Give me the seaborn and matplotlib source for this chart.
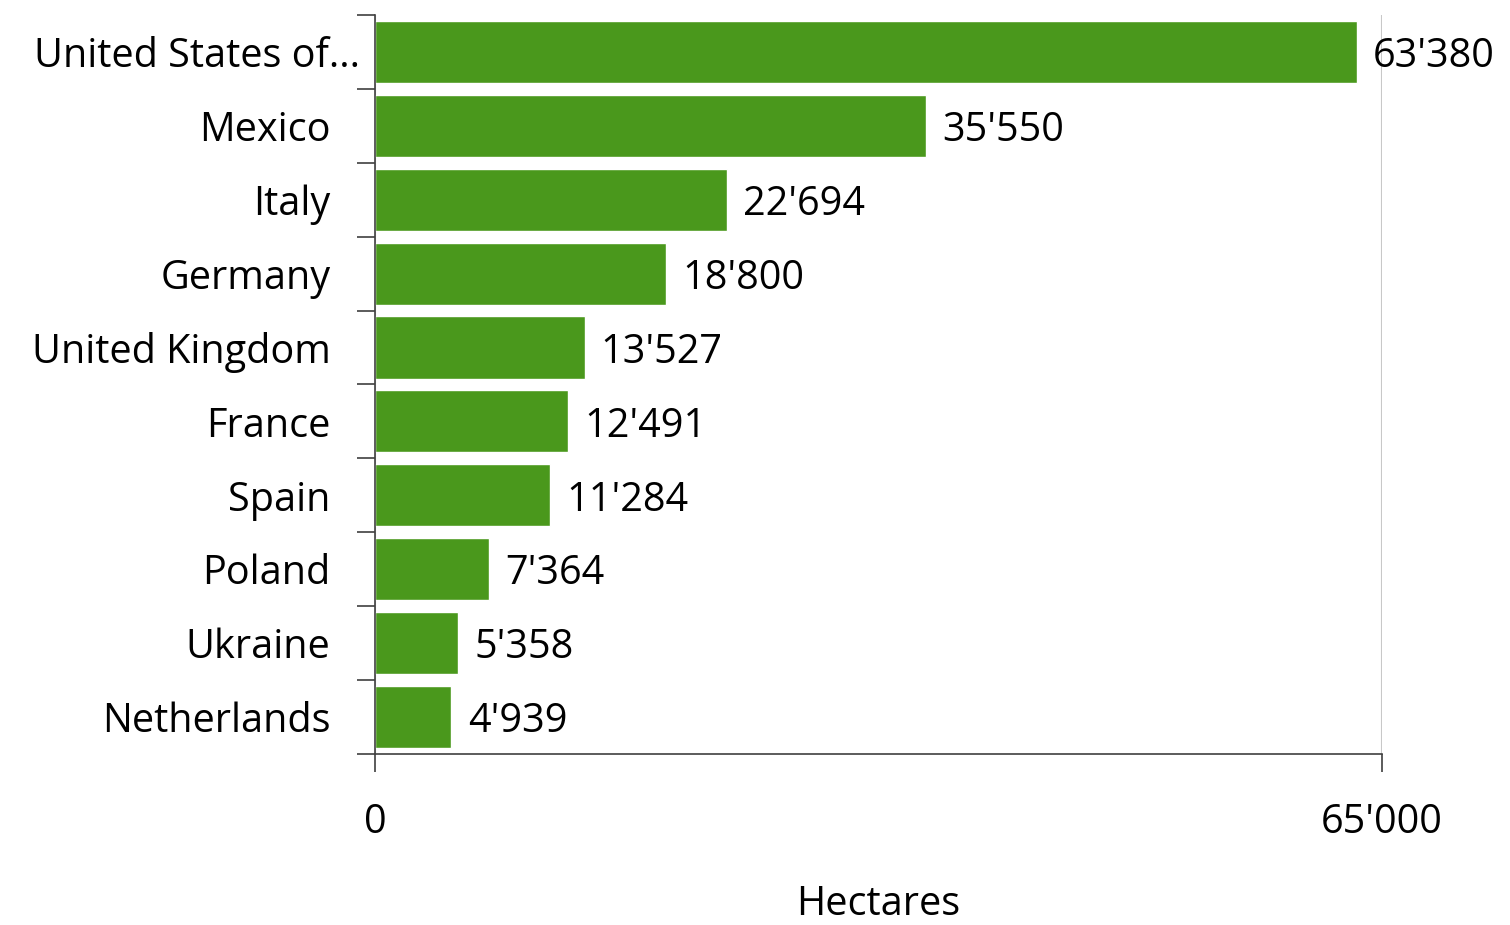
import matplotlib
matplotlib.use("Agg")
import matplotlib.pyplot as plt
import matplotlib.transforms as mtransforms
import seaborn as sns
import pandas as pd
import numpy as np

# chart values
countries = ["United States of...", "Mexico", "Italy", "Germany", "United Kingdom",
             "France", "Spain", "Poland", "Ukraine", "Netherlands"]
hectares = [63380, 35550, 22694, 18800, 13527, 12491, 11284, 7364, 5358, 4939]
x_ticks = [0, 65000]

df = pd.DataFrame({"country": countries, "hectares": hectares})

sns.set_style("ticks")
plt.rcParams["font.family"] = ["Open Sans", "DejaVu Sans"]
plt.rcParams["text.color"] = "black"
plt.rcParams["xtick.labelcolor"] = "black"
plt.rcParams["ytick.labelcolor"] = "black"
plt.rcParams["axes.labelcolor"] = "black"

FS = 28.5

def fmt(v):
    return f"{v:,}".replace(",", "'")

fig = plt.figure(figsize=(15.1, 9.25), dpi=100)
ax = fig.add_axes([0.2483, 0.1849, 0.6669, 0.7989])

sns.barplot(data=df, x="hectares", y="country", color="#4A981C",
            saturation=1, width=0.84, ax=ax)

for i, v in enumerate(hectares):
    ax.text(v + 1050, i, fmt(v), va="center_baseline", ha="left", fontsize=FS)

ax.set_xlim(0, 65000)
ax.set_ylim(len(countries) - 0.5, -0.5)
ax.set_xticks(x_ticks)
ax.set_xticklabels([fmt(t) for t in x_ticks], fontsize=FS)
ax.tick_params(axis="x", bottom=True, direction="out", length=13, width=1.2,
               color="#404040", pad=22)
ax.tick_params(axis="y", which="major", left=True, length=0, pad=32, labelsize=FS)
ax.set_yticks(np.arange(-0.5, len(countries), 1), minor=True)
ax.tick_params(axis="y", which="minor", left=True, direction="out", length=13,
               width=1.2, color="#404040")

# the truncated first label sits closer to the axis in the original
first = ax.get_yticklabels()[0]
first.set_transform(first.get_transform() +
                    mtransforms.ScaledTranslation(30 / 100, 0, fig.dpi_scale_trans))

ax.xaxis.grid(True, color="#C8C8C8", linewidth=1.5)
ax.set_axisbelow(True)

for s in ["top", "right"]:
    ax.spines[s].set_visible(False)
for s in ["left", "bottom"]:
    ax.spines[s].set_color("#404040")
    ax.spines[s].set_linewidth(1.2)

ax.set_ylabel("")
ax.set_xlabel("Hectares", fontsize=FS, labelpad=30)

fig.savefig("out.png", dpi=100)
